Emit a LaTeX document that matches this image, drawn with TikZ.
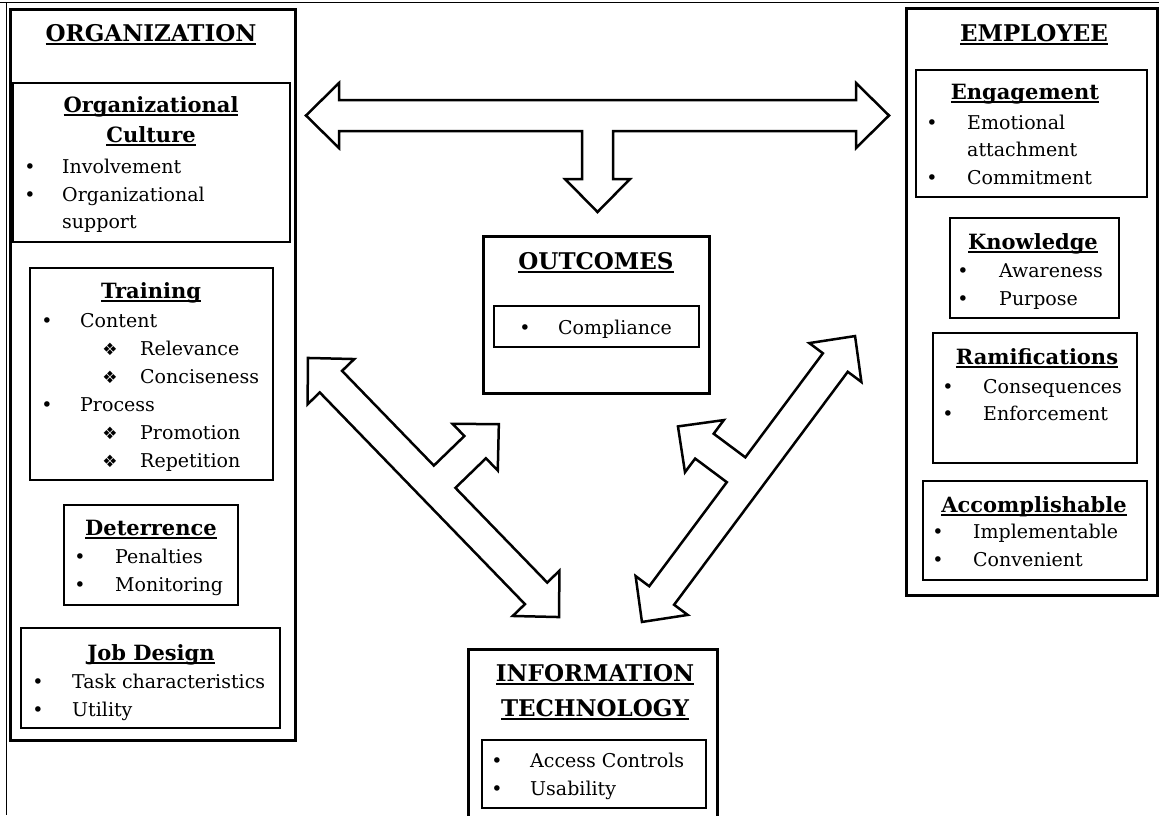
\documentclass[tikz,border=0pt]{standalone}
\usepackage{fontspec}
\setmainfont{DejaVu Serif}
\newfontfamily\dingfont{DejaVu Sans}
\usetikzlibrary{math}

% underlined heading, Word style
\newcommand{\ulhead}[1]{\sbox0{#1}\rlap{\rule[-0.17em]{\wd0}{0.08em}}\usebox0}

\tikzset{
	maintitle/.style={anchor=base, inner sep=0pt, font=\fontsize{23}{27}\selectfont\bfseries},
	subtitle/.style={anchor=base, inner sep=0pt, font=\fontsize{21}{25}\selectfont\bfseries},
	item/.style={anchor=base west, inner sep=0pt, font=\fontsize{19}{23}\selectfont},
	dot/.style={anchor=base, inner sep=0pt, font=\fontsize{19}{23}\selectfont},
	diam/.style={anchor=base, inner sep=0pt, font=\fontsize{17}{21}\selectfont\dingfont},
	outerbox/.style={line width=3pt},
	innerbox/.style={line width=2pt},
	blockarrow/.style={line width=2.5pt, fill=white, line join=miter},
}

\begin{document}
\begin{tikzpicture}[x=1pt, y=-1pt]
	% Constants
	\tikzmath{\shaftwid = 15.5; \headwid = 32.5; \headlen = 33;}

	\useasboundingbox (0,0) rectangle (1159,815);
	\clip (0,0) rectangle (1159,815);

	% Frame
	\draw[line width=1pt] (0,2) -- (1159,2);
	\draw[line width=1pt] (6,2) -- (6,815);

	% Organization
	\begin{scope}
		\draw[outerbox] (10,9) rectangle (295,740);
		\node[maintitle] (orgtitle) at (151,41) {\ulhead{ORGANIZATION}};

		\draw[innerbox] (13,83) rectangle (290,242);
		\node[subtitle] (culttitle) at (151,112) {\ulhead{Organizational}};
		\node[subtitle] (culttitleb) at (151,142) {\ulhead{Culture}};
		\node[dot] (cultdota) at (30,173) {•};
		\node[item] (involve) at (62,173) {Involvement};
		\node[dot] (cultdotb) at (30,201) {•};
		\node[item] (orgsupp) at (62,201) {Organizational};
		\node[item] (orgsuppb) at (62,228) {support};

		\draw[innerbox] (30,268) rectangle (273,480);
		\node[subtitle] (traintitle) at (151,298) {\ulhead{Training}};
		\node[dot] (traindota) at (47,327) {•};
		\node[item] (content) at (80,327) {Content};
		\node[diam] (diama) at (110,355) {❖};
		\node[item] (relevance) at (140,355) {Relevance};
		\node[diam] (diamb) at (110,383) {❖};
		\node[item] (concise) at (140,383) {Conciseness};
		\node[dot] (traindotb) at (47,411) {•};
		\node[item] (process) at (80,411) {Process};
		\node[diam] (diamc) at (110,439) {❖};
		\node[item] (promotion) at (140,439) {Promotion};
		\node[diam] (diamd) at (110,467) {❖};
		\node[item] (repetition) at (140,467) {Repetition};

		\draw[innerbox] (64,505) rectangle (238,605);
		\node[subtitle] (detertitle) at (151,535) {\ulhead{Deterrence}};
		\node[dot] (deterdota) at (80,563) {•};
		\node[item] (penalties) at (115,563) {Penalties};
		\node[dot] (deterdotb) at (80,591) {•};
		\node[item] (monitoring) at (115,591) {Monitoring};

		\draw[innerbox] (21,628) rectangle (280,728);
		\node[subtitle] (jobtitle) at (151,660) {\ulhead{Job Design}};
		\node[dot] (jobdota) at (38,688) {•};
		\node[item] (taskchar) at (72,688) {Task characteristics};
		\node[dot] (jobdotb) at (38,716) {•};
		\node[item] (utility) at (72,716) {Utility};
	\end{scope}

	% Employee
	\begin{scope}
		\draw[outerbox] (906,8) rectangle (1157,595);
		\node[maintitle] (emptitle) at (1034,41) {\ulhead{EMPLOYEE}};

		\draw[innerbox] (916,70) rectangle (1147,197);
		\node[subtitle] (engtitle) at (1025,99) {\ulhead{Engagement}};
		\node[dot] (engdota) at (932,129) {•};
		\node[item] (emotional) at (967,129) {Emotional};
		\node[item] (attach) at (967,156) {attachment};
		\node[dot] (engdotb) at (932,184) {•};
		\node[item] (commit) at (967,184) {Commitment};

		\draw[innerbox] (950,218) rectangle (1119,318);
		\node[subtitle] (knowtitle) at (1033,249) {\ulhead{Knowledge}};
		\node[dot] (knowdota) at (963,277) {•};
		\node[item] (aware) at (999,277) {Awareness};
		\node[dot] (knowdotb) at (963,305) {•};
		\node[item] (purpose) at (999,305) {Purpose};

		\draw[innerbox] (933,333) rectangle (1137,463);
		\node[subtitle] (ramtitle) at (1037,364) {\ulhead{Ramifications}};
		\node[dot] (ramdota) at (948,393) {•};
		\node[item] (conseq) at (983,393) {Consequences};
		\node[dot] (ramdotb) at (948,420) {•};
		\node[item] (enforce) at (983,420) {Enforcement};

		\draw[innerbox] (923,481) rectangle (1147,580);
		\node[subtitle] (acctitle) at (1034,512) {\ulhead{Accomplishable}};
		\node[dot] (accdota) at (938,538) {•};
		\node[item] (implement) at (973,538) {Implementable};
		\node[dot] (accdotb) at (938,566) {•};
		\node[item] (convenient) at (973,566) {Convenient};
	\end{scope}

	% Outcomes
	\draw[outerbox] (483,236) rectangle (709,393);
	\node[maintitle] (outtitle) at (596,269) {\ulhead{OUTCOMES}};
	\draw[innerbox] (494,306) rectangle (699,347);
	\node[dot] (outdot) at (525,334) {•};
	\node[item] (compliance) at (558,334) {Compliance};

	% Information technology
	\draw[outerbox] (468,649) rectangle (717,830);
	\node[maintitle] (ittitle) at (595,681) {\ulhead{INFORMATION}};
	\node[maintitle] (ittitleb) at (595,716) {\ulhead{TECHNOLOGY}};
	\draw[innerbox] (482,740) rectangle (706,808);
	\node[dot] (itdota) at (497,767) {•};
	\node[item] (access) at (530,767) {Access Controls};
	\node[dot] (itdotb) at (497,795) {•};
	\node[item] (usability) at (530,795) {Usability};

	% Block arrows: centre / angle / half length / branch length
	\foreach \cx/\cy/\ang/\len/\br in {597.5/115.5/0/291.5/96.5, 433.5/487.5/134.1/180.4/91, 748.5/479/233.3/178.3/88} {
		\begin{scope}[shift={(\cx,\cy)}, rotate=\ang]
			\draw[blockarrow] (-\len,0) -- (-\len+\headlen,\headwid) -- (-\len+\headlen,\shaftwid)
			-- (-\shaftwid,\shaftwid) -- (-\shaftwid,\br-\headlen) -- (-\headwid,\br-\headlen) -- (0,\br)
			-- (\headwid,\br-\headlen) -- (\shaftwid,\br-\headlen) -- (\shaftwid,\shaftwid)
			-- (\len-\headlen,\shaftwid) -- (\len-\headlen,\headwid) -- (\len,0)
			-- (\len-\headlen,-\headwid) -- (\len-\headlen,-\shaftwid)
			-- (-\len+\headlen,-\shaftwid) -- (-\len+\headlen,-\headwid) -- cycle;
		\end{scope}
	}
\end{tikzpicture}
\end{document}
